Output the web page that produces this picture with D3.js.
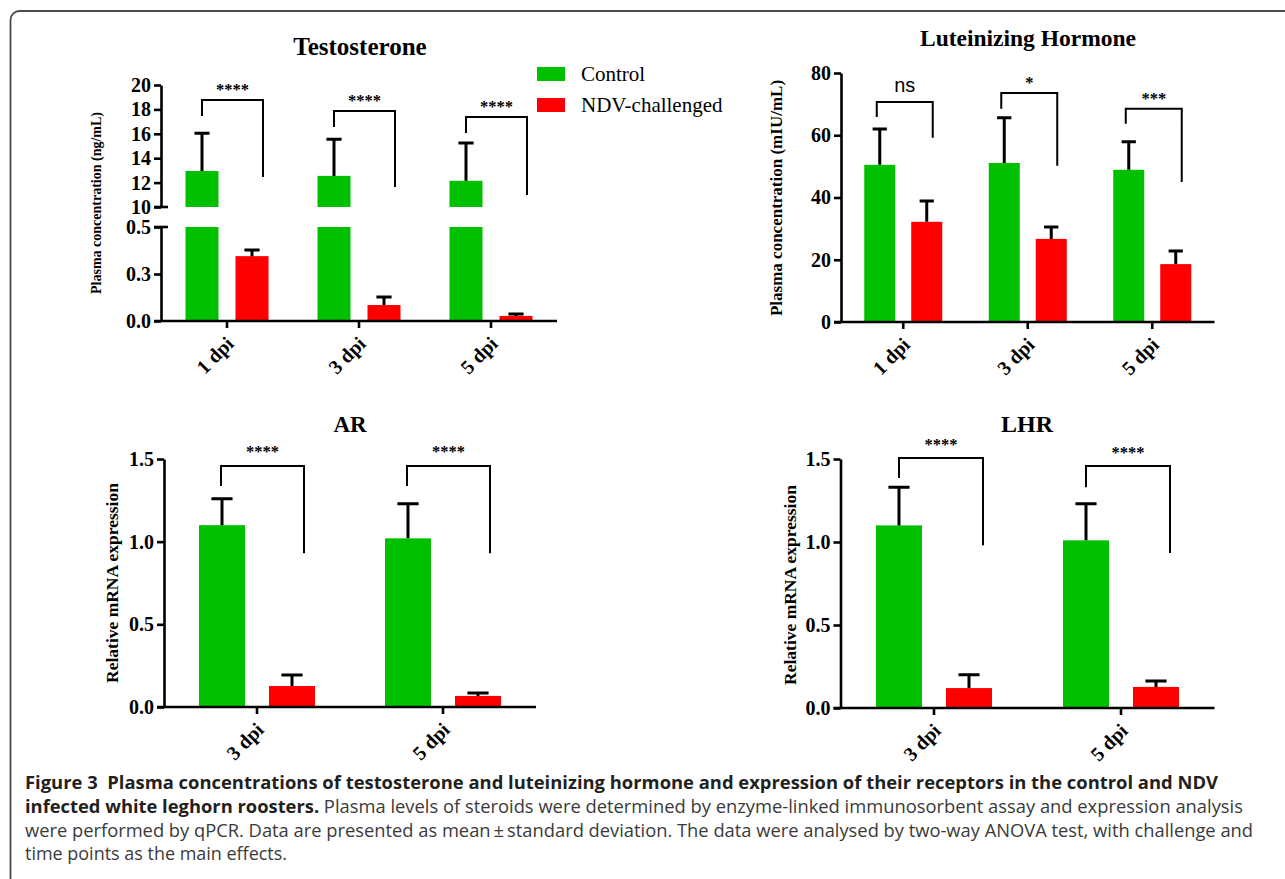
<!DOCTYPE html>
<html lang="en">
<head>
<meta charset="UTF-8">
<title>Figure 3</title>
<script src="https://cdn.jsdelivr.net/npm/d3@7"></script>
<style>
    body { margin: 0; background: #fff; }
    svg { display: block; }
</style>
</head>
<body>
<script>
// ---- data ----
var hormoneDays = ["1 dpi", "3 dpi", "5 dpi"];
var receptorDays = ["3 dpi", "5 dpi"];
var seriesNames = ["Control", "NDV-challenged"];

// Testosterone (ng/mL), broken axis
var testoControl = [12.95, 12.55, 12.15];
var testoControlSD = [3.1, 3.0, 3.1];
var testoNDV = [0.345, 0.085, 0.027];
var testoNDVSD = [0.033, 0.043, 0.010];
var testoStars = ["****", "****", "****"];
var testoUpperTicks = [10, 12, 14, 16, 18, 20];
var testoLowerTicks = [0, 0.25, 0.5];
var testoLowerLabels = ["0.0", "0.3", "0.5"];
// bracket: top line / left leg end / right leg end, in axis units
var testoBrTop = [18.77, 17.87, 17.38];
var testoBrLeft = [17.46, 16.56, 16.07];
var testoBrRight = [12.46, 11.64, 10.98];

// Luteinizing hormone (mIU/mL)
var lhControl = [50.5, 51.1, 48.9];
var lhControlSD = [11.5, 14.5, 9.0];
var lhNDV = [32.2, 26.7, 18.6];
var lhNDVSD = [6.7, 3.8, 4.2];
var lhStars = ["ns", "*", "***"];
var lhTicks = [0, 20, 40, 60, 80];
var lhBrTop = [70.7, 73.6, 68.5];
var lhBrLeft = [65.9, 68.5, 63.7];
var lhBrRight = [59.2, 50.2, 45.0];

// AR relative mRNA
var arControl = [1.10, 1.02];
var arControlSD = [0.16, 0.21];
var arNDV = [0.127, 0.067];
var arNDVSD = [0.067, 0.018];
var arStars = ["****", "****"];
var arBrTop = [1.458, 1.458];
var arBrLeft = [1.337, 1.337];
var arBrRight = [0.93, 0.93];

// LHR relative mRNA
var lhrControl = [1.10, 1.01];
var lhrControlSD = [0.23, 0.22];
var lhrNDV = [0.12, 0.127];
var lhrNDVSD = [0.08, 0.036];
var lhrStars = ["****", "****"];
var lhrBrTop = [1.506, 1.458];
var lhrBrLeft = [1.386, 1.33];
var lhrBrRight = [0.98, 0.934];

var mrnaTicks = [0, 0.5, 1.0, 1.5];
var mrnaLabels = ["0.0", "0.5", "1.0", "1.5"];

// ---- drawing ----
var w = 1285, h = 879;
var serif = "'Liberation Serif', 'Times New Roman', serif";
var colors = d3.scaleOrdinal().domain(seriesNames).range(["#00c000", "#ff0000"]);

var svg = d3.select("body").append("svg")
    .attr("width", w)
    .attr("height", h);

// figure frame (runs off the right and bottom edge)
svg.append("rect")
    .attr("x", 10.5).attr("y", 11)
    .attr("width", 1400).attr("height", 1000)
    .attr("rx", 9)
    .attr("fill", "none")
    .attr("stroke", "#4a4a4a")
    .attr("stroke-width", 1.8);

function drawPanel(p) {
    var g = svg.append("g");
    var x = d3.scaleBand().domain(p.days).range(p.xRange);
    var sub = d3.scaleBand().domain(seriesNames).range([-p.half, p.half]).paddingInner(p.pad);
    var segs = p.segments.map(function(s) {
        return {
            lo: s.domain[0], hi: s.domain[1],
            y: d3.scaleLinear().domain(s.domain).range(s.range),
            ticks: s.ticks, labels: s.labels
        };
    });
    var topSeg = segs[segs.length - 1];
    var axisX = p.xRange[0];
    var base = segs[0].y(segs[0].lo);

    var rows = [];
    p.days.forEach(function(d, i) {
        rows.push({ day: d, i: i, name: seriesNames[0], v: p.ctrl[i], sd: p.ctrlSD[i] });
        rows.push({ day: d, i: i, name: seriesNames[1], v: p.ndv[i], sd: p.ndvSD[i] });
    });
    function left(r) { return x(r.day) + x.bandwidth() / 2 + sub(r.name); }
    function mid(r) { return left(r) + sub.bandwidth() / 2; }

    // bars, one piece per axis segment
    segs.forEach(function(s) {
        g.append("g").selectAll("rect")
            .data(rows.filter(function(r) { return r.v > s.lo; }))
            .enter()
            .append("rect")
            .attr("x", left)
            .attr("width", sub.bandwidth())
            .attr("y", function(r) { return s.y(Math.min(r.v, s.hi)); })
            .attr("height", function(r) { return s.y(s.lo) - s.y(Math.min(r.v, s.hi)); })
            .attr("fill", function(r) { return colors(r.name); });
    });

    // error bars (upper only)
    var errs = g.append("g").attr("stroke", "#000").attr("stroke-width", 3).attr("fill", "none");
    var cap = sub.bandwidth() * 0.23;
    rows.forEach(function(r) {
        var s = segs.filter(function(s) { return r.v >= s.lo && r.v <= s.hi; })[0];
        var top = s.y(r.v + r.sd);
        errs.append("path")
            .attr("d", "M" + mid(r) + "," + s.y(r.v) + "V" + top +
                       "M" + (mid(r) - cap) + "," + top + "H" + (mid(r) + cap));
    });

    // y axis, one per segment
    segs.forEach(function(s) {
        var ax = d3.axisLeft(s.y)
            .tickValues(s.ticks)
            .tickSize(7)
            .tickSizeOuter(0)
            .tickPadding(3)
            .tickFormat(function(d, i) { return s.labels[i]; });
        g.append("g")
            .attr("class", "axis")
            .attr("transform", "translate(" + axisX + ",0)")
            .call(ax);
    });
    // break marks cross the axis
    if (segs.length > 1) {
        for (var k = 0; k < segs.length - 1; k++) {
            [segs[k].y(segs[k].hi), segs[k + 1].y(segs[k + 1].lo)].forEach(function(yy) {
                g.append("line")
                    .attr("x1", axisX - 7).attr("x2", axisX + 7)
                    .attr("y1", yy).attr("y2", yy)
                    .attr("stroke", "#000").attr("stroke-width", 2.6);
            });
        }
    }

    // x axis
    var xa = g.append("g")
        .attr("class", "axis")
        .attr("transform", "translate(0," + base + ")")
        .call(d3.axisBottom(x).tickSize(7).tickSizeOuter(0));
    xa.select(".domain").attr("d", "M" + (axisX - 7) + ",0H" + p.xRange[1]);
    xa.selectAll("text")
        .attr("x", 0).attr("y", 0)
        .attr("dy", "0.35em")
        .attr("text-anchor", "end")
        .attr("transform", "translate(3,19) rotate(-45)");

    g.selectAll(".axis")
        .attr("font-family", serif)
        .attr("font-size", 20)
        .attr("font-weight", "bold");
    g.selectAll(".axis .domain, .axis .tick line")
        .attr("stroke", "#000")
        .attr("stroke-width", 2.6);
    g.selectAll(".axis text").attr("fill", "#000");

    // significance brackets
    var br = g.append("g").attr("stroke", "#000").attr("stroke-width", 2).attr("fill", "none");
    p.days.forEach(function(d, i) {
        var xl = mid(rows[2 * i]) + p.brL;
        var xr = mid(rows[2 * i + 1]) + p.brR;
        var yt = topSeg.y(p.brTop[i]);
        br.append("path")
            .attr("d", "M" + xl + "," + topSeg.y(p.brLeft[i]) + "V" + yt + "H" + xr +
                       "V" + topSeg.y(p.brRight[i]));
        var lab = p.stars[i];
        var t = g.append("text")
            .attr("x", (xl + xr) / 2)
            .attr("text-anchor", "middle")
            .text(lab);
        if (lab === "ns") {
            t.attr("y", yt - 10)
                .attr("font-family", "'Liberation Sans', Arial, sans-serif")
                .attr("font-size", 20);
        } else {
            t.attr("y", yt - p.starGap)
                .attr("font-family", serif)
                .attr("font-weight", "bold")
                .attr("font-size", 16.5);
        }
    });

    // titles
    g.append("text")
        .attr("x", p.title[1]).attr("y", p.title[2])
        .attr("text-anchor", "middle")
        .attr("font-family", serif).attr("font-weight", "bold")
        .attr("font-size", p.title[3])
        .text(p.title[0]);
    g.append("text")
        .attr("transform", "translate(" + p.ytitle[1] + "," + p.ytitle[2] + ") rotate(-90)")
        .attr("text-anchor", "middle")
        .attr("dy", "0.35em")
        .attr("font-family", serif).attr("font-weight", "bold")
        .attr("font-size", p.ytitle[3])
        .text(p.ytitle[0]);
}

drawPanel({
    days: hormoneDays, xRange: [161, 557], half: 41.5, pad: 0.34,
    ctrl: testoControl, ctrlSD: testoControlSD, ndv: testoNDV, ndvSD: testoNDVSD,
    segments: [
        { domain: [0, 0.5], range: [321, 227], ticks: testoLowerTicks, labels: testoLowerLabels },
        { domain: [10, 20], range: [207, 85], ticks: testoUpperTicks, labels: testoUpperTicks.map(String) }
    ],
    stars: testoStars, brTop: testoBrTop, brLeft: testoBrLeft, brRight: testoBrRight,
    brL: 0, brR: 11, starGap: 5,
    title: ["Testosterone", 360, 55, 25],
    ytitle: ["Plasma concentration (ng/mL)", 96, 203, 14]
});

drawPanel({
    days: hormoneDays, xRange: [841, 1214.5], half: 39, pad: 0.34,
    ctrl: lhControl, ctrlSD: lhControlSD, ndv: lhNDV, ndvSD: lhNDVSD,
    segments: [
        { domain: [0, 80], range: [322, 73], ticks: lhTicks, labels: lhTicks.map(String) }
    ],
    stars: lhStars, brTop: lhBrTop, brLeft: lhBrLeft, brRight: lhBrRight,
    brL: -3, brR: 6, starGap: 5,
    title: ["Luteinizing Hormone", 1028, 46, 23.5],
    ytitle: ["Plasma concentration (mIU/mL)", 776, 198, 17]
});

drawPanel({
    days: receptorDays, xRange: [164, 536], half: 58, pad: 0.343,
    ctrl: arControl, ctrlSD: arControlSD, ndv: arNDV, ndvSD: arNDVSD,
    segments: [
        { domain: [0, 1.5], range: [707, 459], ticks: mrnaTicks, labels: mrnaLabels }
    ],
    stars: arStars, brTop: arBrTop, brLeft: arBrLeft, brRight: arBrRight,
    brL: -1, brR: 12, starGap: 9,
    title: ["AR", 350, 432, 23],
    ytitle: ["Relative mRNA expression", 112, 583, 17.5]
});

drawPanel({
    days: receptorDays, xRange: [840.5, 1214.5], half: 58, pad: 0.343,
    ctrl: lhrControl, ctrlSD: lhrControlSD, ndv: lhrNDV, ndvSD: lhrNDVSD,
    segments: [
        { domain: [0, 1.5], range: [708, 459], ticks: mrnaTicks, labels: mrnaLabels }
    ],
    stars: lhrStars, brTop: lhrBrTop, brLeft: lhrBrLeft, brRight: lhrBrRight,
    brL: 0, brR: 14, starGap: 8,
    title: ["LHR", 1027, 432, 24],
    ytitle: ["Relative mRNA expression", 790, 585, 17.5]
});

// legend
var legend = svg.append("g").selectAll("g")
    .data(seriesNames)
    .enter()
    .append("g")
    .attr("transform", function(d, i) { return "translate(537," + (67 + i * 31) + ")"; });
legend.append("rect")
    .attr("width", 28).attr("height", 14)
    .attr("fill", function(d) { return colors(d); });
legend.append("text")
    .attr("x", 44).attr("y", 14)
    .attr("font-family", serif)
    .attr("font-size", 21)
    .text(function(d) { return d; });

// caption
var capFont = "'Open Sans', 'Noto Sans', sans-serif";
var capLines = [
    { y: 789, len: 1193, parts: [["Figure 3  Plasma concentrations of testosterone and luteinizing hormone and expression of their receptors in the control and NDV", true]] },
    { y: 813, len: 1218, parts: [["infected white leghorn roosters.", true], [" Plasma levels of steroids were determined by enzyme-linked immunosorbent assay and expression analysis", false]] },
    { y: 837, len: 1228, parts: [["were performed by qPCR. Data are presented as mean\u2009\u00b1\u2009standard deviation. The data were analysed by two-way ANOVA test, with challenge and", false]] },
    { y: 860, len: 262, parts: [["time points as the main effects.", false]] }
];
capLines.forEach(function(l) {
    var t = svg.append("text")
        .attr("x", 25).attr("y", l.y)
        .attr("font-family", capFont)
        .attr("font-size", 17.5)
        .attr("textLength", l.len)
        .attr("lengthAdjust", "spacingAndGlyphs")
        .attr("xml:space", "preserve");
    l.parts.forEach(function(pt) {
        t.append("tspan")
            .attr("font-weight", pt[1] ? "bold" : "normal")
            .attr("fill", pt[1] ? "#231f20" : "#3a3a3a")
            .text(pt[0]);
    });
});
</script>
</body>
</html>
